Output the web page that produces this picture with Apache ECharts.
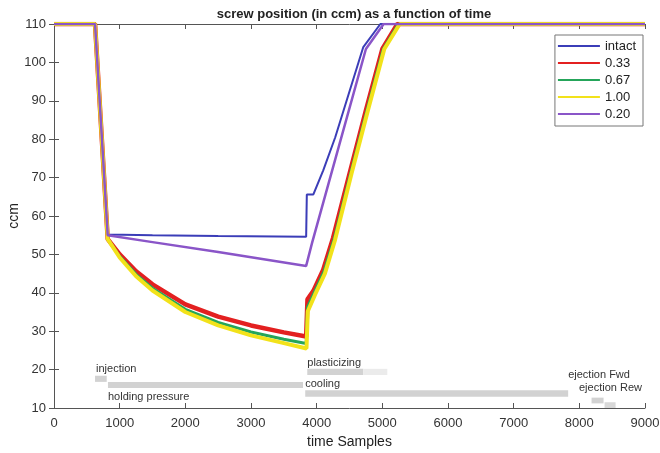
<!DOCTYPE html>
<html>
<head>
<meta charset="utf-8">
<script src="https://cdn.jsdelivr.net/npm/echarts@6/dist/echarts.min.js"></script>
<style>
html,body{margin:0;padding:0;background:#fff;}
#chart{width:660px;height:453px;}
</style>
</head>
<body>
<div id="chart"></div>
<script>
// ---- data ----
const seriesNames = ['intact', '0.33', '0.67', '1.00', '0.20'];

const intactX = [0, 625, 818, 1500, 2500, 3840, 3850, 3950, 4100, 4283, 4710, 4970, 9000];
const intactY = [110, 110, 55.2, 55.0, 54.8, 54.6, 65.6, 65.6, 71.9, 80.5, 104.0, 110, 110];

const r033X = [0, 625, 818, 1000, 1250, 1500, 2000, 2500, 3000, 3500, 3840, 3860, 3950, 4100, 4250, 4500, 4750, 5000, 5230, 9000];
const r033Y = [110, 110, 54, 50.0, 45.6, 42.2, 37.0, 33.8, 31.5, 29.7, 28.6, 38.3, 40.5, 46.0, 54.3, 71.0, 87.5, 103.5, 110, 110];

const r067X = [0, 625, 818, 1000, 1250, 1500, 2000, 2500, 3000, 3500, 3840, 3860, 3960, 4110, 4265, 4515, 4765, 5015, 5245, 9000];
const r067Y = [110, 110, 54, 49.5, 44.8, 41.2, 35.7, 32.3, 29.8, 27.9, 26.8, 36.3, 40.0, 45.5, 54.0, 71.0, 87.5, 103.5, 110, 110];

const r100X = [0, 625, 818, 1000, 1250, 1500, 2000, 2500, 3000, 3500, 3845, 3865, 3975, 4125, 4280, 4530, 4780, 5030, 5265, 9000];
const r100Y = [110, 110, 54, 49.2, 44.3, 40.6, 35.0, 31.5, 28.9, 26.9, 25.5, 35.2, 39.5, 45.0, 53.8, 71.0, 87.5, 103.5, 110, 110];

const r020X = [0, 625, 818, 1500, 2500, 3840, 3930, 4360, 4750, 5020, 9000];
const r020Y = [110, 110, 55.0, 53.2, 50.6, 47.0, 53.0, 79.5, 103.5, 110, 110];

// phase bars: start/end sample, lower/upper ccm
const phaseStart = [625, 822, 3857, 4710, 3826, 8186, 8384];
const phaseEnd   = [803, 3792, 4710, 5076, 7830, 8369, 8552];
const phaseLow   = [16.8, 15.2, 18.6, 18.6, 12.9, 11.2, 10.0];
const phaseHigh  = [18.4, 16.8, 20.2, 20.2, 14.6, 12.7, 11.5];

// phase labels (anchor in data units)
const labelText = ['injection', 'holding pressure', 'plasticizing', 'cooling', 'ejection Fwd', 'ejection Rew'];
const labelX = [640, 822, 3857, 3826, 7830, 7995];
const labelY = [20.2, 12.9, 21.7, 16.2, 18.6, 15.2];

const xTicks = { min: 0, max: 9000, interval: 1000 };
const yTicks = { min: 10, max: 110, interval: 10 };

// ---- styles ----
const colors = ['#3b3db8', '#e32020', '#25a55a', '#f2e21a', '#8a55c8'];
const widths = [2, 4.5, 3, 4, 2.5];
const barShades = ['#d2d2d2', '#d2d2d2', '#d2d2d2', '#ebebeb', '#d2d2d2', '#d2d2d2', '#d8d8d8'];
const FONT = 'Liberation Sans, Arial, Helvetica, sans-serif';

function zip(xs, ys) { return xs.map((x, i) => [x, ys[i]]); }
const allX = [intactX, r033X, r067X, r100X, r020X];
const allY = [intactY, r033Y, r067Y, r100Y, r020Y];

const lineSeries = seriesNames.map((name, i) => ({
  name: name,
  type: 'line',
  data: zip(allX[i], allY[i]),
  symbol: 'none',
  showSymbol: false,
  clip: true,
  lineStyle: { color: colors[i], width: widths[i] },
  itemStyle: { color: colors[i] },
  z: 3 + i,
  silent: true
}));

const phaseData = phaseStart.map((s, i) => [s, phaseEnd[i], phaseLow[i], phaseHigh[i]]);
const labelData = labelText.map((t, i) => [labelX[i], labelY[i]]);

const axisCommon = {
  axisLine: { show: true, lineStyle: { color: '#555', width: 1 } },
  axisTick: { show: true, inside: true, length: 5, lineStyle: { color: '#555' } },
  splitLine: { show: false }
};
const plain = v => String(v);

const option = {
  animation: false,
  backgroundColor: '#fff',
  title: {
    text: 'screw position (in ccm) as a function of time',
    left: 349, top: 3, textAlign: 'center',
    textStyle: { fontSize: 13, fontWeight: 'bold', color: '#222', fontFamily: FONT }
  },
  legend: {
    data: seriesNames,
    orient: 'vertical',
    right: 17, top: 35,
    padding: [4, 7, 5, 3],
    itemGap: 3,
    icon: 'rect',
    itemWidth: 42, itemHeight: 2,
    backgroundColor: '#fff',
    borderColor: '#777', borderWidth: 1,
    textStyle: { fontSize: 13, color: '#222', fontFamily: FONT, lineHeight: 14 }
  },
  grid: { left: 54, right: 15, top: 24, bottom: 45, containLabel: false, outerBoundsMode: 'none' },
  xAxis: [
    Object.assign({
      type: 'value', position: 'bottom',
      min: xTicks.min, max: xTicks.max, interval: xTicks.interval,
      name: 'time Samples', nameLocation: 'middle', nameGap: 27, nameMoveOverlap: false,
      nameTextStyle: { fontSize: 14, color: '#222', fontFamily: FONT },
      axisLabel: { fontSize: 13, color: '#333', margin: 9, fontFamily: FONT, formatter: plain }
    }, axisCommon),
    Object.assign({
      type: 'value', position: 'top',
      min: xTicks.min, max: xTicks.max, interval: xTicks.interval,
      axisLabel: { show: false }
    }, axisCommon)
  ],
  yAxis: [
    Object.assign({
      type: 'value', position: 'left',
      min: yTicks.min, max: yTicks.max, interval: yTicks.interval,
      name: 'ccm', nameLocation: 'middle', nameGap: 33, nameRotate: 90, nameMoveOverlap: false,
      nameTextStyle: { fontSize: 14, color: '#222', fontFamily: FONT },
      axisLabel: { fontSize: 13, color: '#333', margin: 8, fontFamily: FONT, formatter: plain }
    }, axisCommon),
    Object.assign({
      type: 'value', position: 'right',
      min: yTicks.min, max: yTicks.max, interval: yTicks.interval,
      axisLabel: { show: false }
    }, axisCommon)
  ],
  series: [
    {
      type: 'custom',
      name: 'phases',
      xAxisIndex: 0, yAxisIndex: 0,
      silent: true,
      z: 1,
      clip: false,
      data: phaseData,
      renderItem: function (params, api) {
        const p0 = api.coord([api.value(0), api.value(3)]);
        const p1 = api.coord([api.value(1), api.value(2)]);
        return {
          type: 'rect',
          shape: { x: p0[0], y: p0[1], width: p1[0] - p0[0], height: p1[1] - p0[1] },
          style: { fill: barShades[params.dataIndex] }
        };
      }
    },
    {
      type: 'custom',
      name: 'phaseLabels',
      xAxisIndex: 0, yAxisIndex: 0,
      silent: true,
      z: 2,
      clip: false,
      data: labelData,
      renderItem: function (params, api) {
        const p = api.coord([api.value(0), api.value(1)]);
        return {
          type: 'text',
          x: p[0], y: p[1],
          style: {
            text: labelText[params.dataIndex],
            fill: '#333',
            fontSize: 11,
            fontFamily: FONT,
            align: 'left',
            verticalAlign: 'middle'
          }
        };
      }
    }
  ].concat(lineSeries)
};

const chart = echarts.init(document.getElementById('chart'), null, { renderer: 'canvas' });
chart.setOption(option);
</script>
</body>
</html>
